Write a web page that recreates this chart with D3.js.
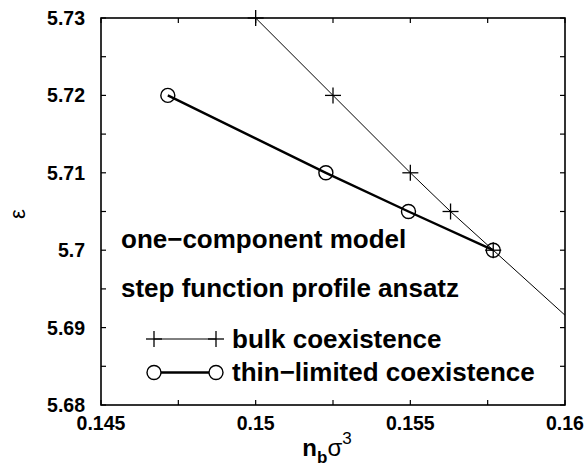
<!DOCTYPE html>
<html>
<head>
<meta charset="utf-8">
<script src="https://cdn.jsdelivr.net/npm/d3@7"></script>
<style>
  body { margin: 0; background: #fff; }
  text { font-family: "Liberation Sans", Arial, sans-serif; }
</style>
</head>
<body>
<div id="chart"></div>
<script>
/* epsilon vs n_b sigma^3 coexistence plot */

const bulkX = [0.15, 0.1525, 0.155, 0.1563, 0.15768, 0.16];
const bulkY = [5.73, 5.72, 5.71, 5.705, 5.70, 5.6916];
const bulkMarked = [true, true, true, true, true, false];
const thinX = [0.14716, 0.15227, 0.15494, 0.15768];
const thinY = [5.72, 5.71, 5.705, 5.70];
const xTicks = [0.145, 0.15, 0.155, 0.16];
const xTickLabels = ["0.145", "0.15", "0.155", "0.16"];
const yTicks = [5.68, 5.69, 5.7, 5.71, 5.72, 5.73];
const yTickLabels = ["5.68", "5.69", "5.7", "5.71", "5.72", "5.73"];
const xMinor = [0.1475, 0.1525, 0.1575];
const yMinor = [5.685, 5.695, 5.705, 5.715, 5.725];

const width = 586, height = 469;
const margin = { top: 18, right: 21, bottom: 64, left: 101 };

const svg = d3.select("#chart")
  .append("svg")
  .attr("width", width)
  .attr("height", height);

const x = d3.scaleLinear()
  .domain([0.145, 0.16])
  .range([margin.left, width - margin.right]);

const y = d3.scaleLinear()
  .domain([5.68, 5.73])
  .range([height - margin.bottom, margin.top]);

const tickLen = 5;
const ticks = svg.append("g").attr("stroke", "#000").attr("stroke-width", 1.2);

// ticks on all four sides, pointing inward
xTicks.concat(xMinor).forEach(v => {
  ticks.append("line").attr("x1", x(v)).attr("x2", x(v))
    .attr("y1", y.range()[0]).attr("y2", y.range()[0] - tickLen);
  ticks.append("line").attr("x1", x(v)).attr("x2", x(v))
    .attr("y1", y.range()[1]).attr("y2", y.range()[1] + tickLen);
});
yTicks.concat(yMinor).forEach(v => {
  ticks.append("line").attr("y1", y(v)).attr("y2", y(v))
    .attr("x1", x.range()[0]).attr("x2", x.range()[0] + tickLen);
  ticks.append("line").attr("y1", y(v)).attr("y2", y(v))
    .attr("x1", x.range()[1]).attr("x2", x.range()[1] - tickLen);
});

// Tick labels
svg.append("g").selectAll("text")
  .data(xTicks)
  .join("text")
  .attr("x", d => x(d))
  .attr("y", 430)
  .attr("text-anchor", "middle")
  .attr("font-size", 19.5)
  .attr("font-weight", "bold")
  .text((d, i) => xTickLabels[i]);

svg.append("g").selectAll("text")
  .data(yTicks)
  .join("text")
  .attr("x", 85)
  .attr("y", d => y(d) + 7)
  .attr("text-anchor", "end")
  .attr("font-size", 19.5)
  .attr("font-weight", "bold")
  .text((d, i) => yTickLabels[i]);

// Axis labels
svg.append("text")
  .attr("transform", "translate(25, 214) rotate(-90)")
  .attr("text-anchor", "middle")
  .attr("font-size", 22)
  .text("ε");

const xl = svg.append("text")
  .attr("x", 327)
  .attr("y", 456)
  .attr("text-anchor", "middle")
  .attr("font-size", 24);
xl.append("tspan").attr("font-weight", "bold").text("n");
xl.append("tspan").attr("font-weight", "bold").attr("font-size", 17).attr("dy", 7).text("b");
xl.append("tspan").attr("dy", -7).text("σ");
xl.append("tspan").attr("font-size", 17).attr("dy", -12).text("3");

// clip
svg.append("clipPath").attr("id", "clip")
  .append("rect")
  .attr("x", margin.left).attr("y", margin.top)
  .attr("width", width - margin.left - margin.right)
  .attr("height", height - margin.top - margin.bottom);

const line = d3.line().x(d => x(d[0])).y(d => y(d[1]));
const bulk = bulkX.map((v, i) => [v, bulkY[i], bulkMarked[i]]);
const thin = thinX.map((v, i) => [v, thinY[i]]);

const plot = svg.append("g").attr("clip-path", "url(#clip)");

plot.append("path")
  .datum(bulk)
  .attr("d", line)
  .attr("fill", "none")
  .attr("stroke", "#000")
  .attr("stroke-width", 1);

plot.append("path")
  .datum(thin)
  .attr("d", line)
  .attr("fill", "none")
  .attr("stroke", "#000")
  .attr("stroke-width", 2.4);

const plusSize = 8;
function drawPlus(g, cx, cy) {
  g.append("line").attr("x1", cx - plusSize).attr("x2", cx + plusSize)
    .attr("y1", cy).attr("y2", cy).attr("stroke", "#000").attr("stroke-width", 1.3);
  g.append("line").attr("x1", cx).attr("x2", cx)
    .attr("y1", cy - plusSize).attr("y2", cy + plusSize).attr("stroke", "#000").attr("stroke-width", 1.3);
}
function drawCircle(g, cx, cy) {
  g.append("circle").attr("cx", cx).attr("cy", cy).attr("r", 7)
    .attr("fill", "none").attr("stroke", "#000").attr("stroke-width", 1.4);
}

const marks = svg.append("g");
bulk.filter(d => d[2]).forEach(d => drawPlus(marks, x(d[0]), y(d[1])));
thin.forEach(d => drawCircle(marks, x(d[0]), y(d[1])));

// Frame
svg.append("rect")
  .attr("x", margin.left).attr("y", margin.top)
  .attr("width", width - margin.left - margin.right)
  .attr("height", height - margin.top - margin.bottom)
  .attr("fill", "none")
  .attr("stroke", "#000")
  .attr("stroke-width", 1.6);

// Annotations
svg.append("text").attr("x", 121).attr("y", 248)
  .attr("font-size", 26).attr("font-weight", "bold")
  .text("one−component model");
svg.append("text").attr("x", 121).attr("y", 297)
  .attr("font-size", 26).attr("font-weight", "bold")
  .text("step function profile ansatz");

// Legend
const leg = svg.append("g");
leg.append("line").attr("x1", 154).attr("x2", 216).attr("y1", 339).attr("y2", 339)
  .attr("stroke", "#000").attr("stroke-width", 1);
drawPlus(leg, 154, 339);
drawPlus(leg, 216, 339);
leg.append("text").attr("x", 232).attr("y", 348)
  .attr("font-size", 26).attr("font-weight", "bold").text("bulk coexistence");

leg.append("line").attr("x1", 161).attr("x2", 209).attr("y1", 372.5).attr("y2", 372.5)
  .attr("stroke", "#000").attr("stroke-width", 2.4);
drawCircle(leg, 154, 372.5);
drawCircle(leg, 216, 372.5);
leg.append("text").attr("x", 232).attr("y", 381)
  .attr("font-size", 26).attr("font-weight", "bold").text("thin−limited coexistence");
</script>
</body>
</html>
